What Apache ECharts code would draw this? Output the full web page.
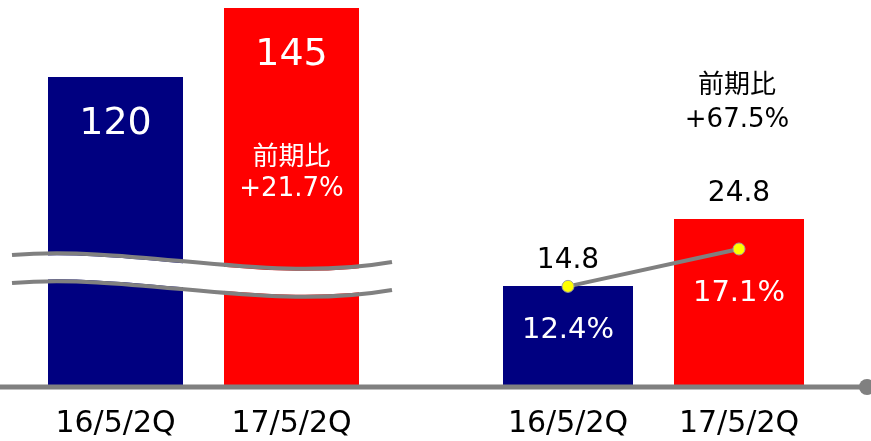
<!DOCTYPE html>
<html><head><meta charset="utf-8">
<script src="https://cdn.jsdelivr.net/npm/echarts@6/dist/echarts.min.js"></script>
<style>html,body{margin:0;padding:0;background:#fff}#c{width:871px;height:441px}</style>
</head><body><div id="c"></div>
<script>
const categories = ['16/5/2Q', '17/5/2Q'];
const salesValues = [120, 145];
const profitValues = [14.8, 24.8];
const marginValues = [12.4, 17.1];
const yoyLeft = ['前期比', '+21.7%'];
const yoyRight = ['前期比', '+67.5%'];
const barColors = ['#000080', '#FF0000'];

const FONT = "'DejaVu Sans','Noto Sans CJK JP',sans-serif";
const chart = echarts.init(document.getElementById('c'), null, {renderer: 'canvas'});

function wave(dy, color, width, z) {
  return {
    type: 'bezierCurve', z: z, silent: true,
    shape: {x1: 12, y1: 255 + dy, cpx1: 139, cpy1: 245 + dy, cpx2: 265, cpy2: 284 + dy, x2: 392, y2: 262 + dy},
    style: {stroke: color, lineWidth: width, fill: null, lineCap: 'butt'}
  };
}

chart.setOption({
  animation: false,
  grid: [
    {left: 27.5, width: 352, top: 0, bottom: 56},
    {left: 482.5, width: 342, top: 0, bottom: 56}
  ],
  xAxis: [0, 1].map(i => ({
    type: 'category', gridIndex: i, data: categories,
    axisLine: {show: false}, axisTick: {show: false},
    axisLabel: {color: '#000', fontSize: 30, fontFamily: FONT, margin: 24}
  })),
  yAxis: [
    {gridIndex: 0, type: 'value', min: 8.4, max: 147.9, show: false},
    {gridIndex: 1, type: 'value', min: 0, max: 57.5, show: false},
    {gridIndex: 1, type: 'value', min: 0, max: 48.4, show: false}
  ],
  series: [
    {
      type: 'bar', xAxisIndex: 0, yAxisIndex: 0, barWidth: 135,
      data: salesValues.map((v, i) => ({value: v, itemStyle: {color: barColors[i]}})),
      label: {show: true, position: 'insideTop', distance: 28, color: '#fff', fontSize: 38, fontFamily: FONT}
    },
    {
      type: 'bar', xAxisIndex: 1, yAxisIndex: 1, barWidth: 130,
      data: profitValues.map((v, i) => ({value: v, itemStyle: {color: barColors[i]}})),
      label: {show: true, position: 'top', distance: 11, color: '#000', fontSize: 28, fontFamily: FONT}
    },
    {
      type: 'line', xAxisIndex: 1, yAxisIndex: 2, data: marginValues, z: 5,
      lineStyle: {color: '#808080', width: 4},
      symbol: 'circle', symbolSize: 12,
      itemStyle: {color: '#FFFF00', borderColor: '#A0A0A0', borderWidth: 1},
      label: {show: true, position: 'bottom', distance: 23, color: '#fff', fontSize: 29, fontFamily: FONT,
              formatter: p => p.value.toFixed(1) + '%'}
    }
  ],
  graphic: [
    wave(14, '#FFFFFF', 24, 50),
    wave(0, '#808080', 4, 51),
    wave(28, '#808080', 4, 51),
    {type: 'line', z: 40, silent: true, shape: {x1: 0, y1: 387, x2: 864, y2: 387},
     style: {stroke: '#808080', lineWidth: 5}},
    {type: 'circle', z: 40, silent: true, shape: {cx: 867, cy: 387, r: 8}, style: {fill: '#808080'}},
    {type: 'text', z: 60, style: {text: yoyLeft.join('\n'), x: 291.5, y: 174, align: 'center', verticalAlign: 'middle',
      fill: '#fff', font: '26px ' + FONT, lineHeight: 31}},
    {type: 'text', z: 60, style: {text: yoyRight.join('\n'), x: 737, y: 103, align: 'center', verticalAlign: 'middle',
      fill: '#000', font: '26px ' + FONT, lineHeight: 34}}
  ]
});
</script></body></html>
